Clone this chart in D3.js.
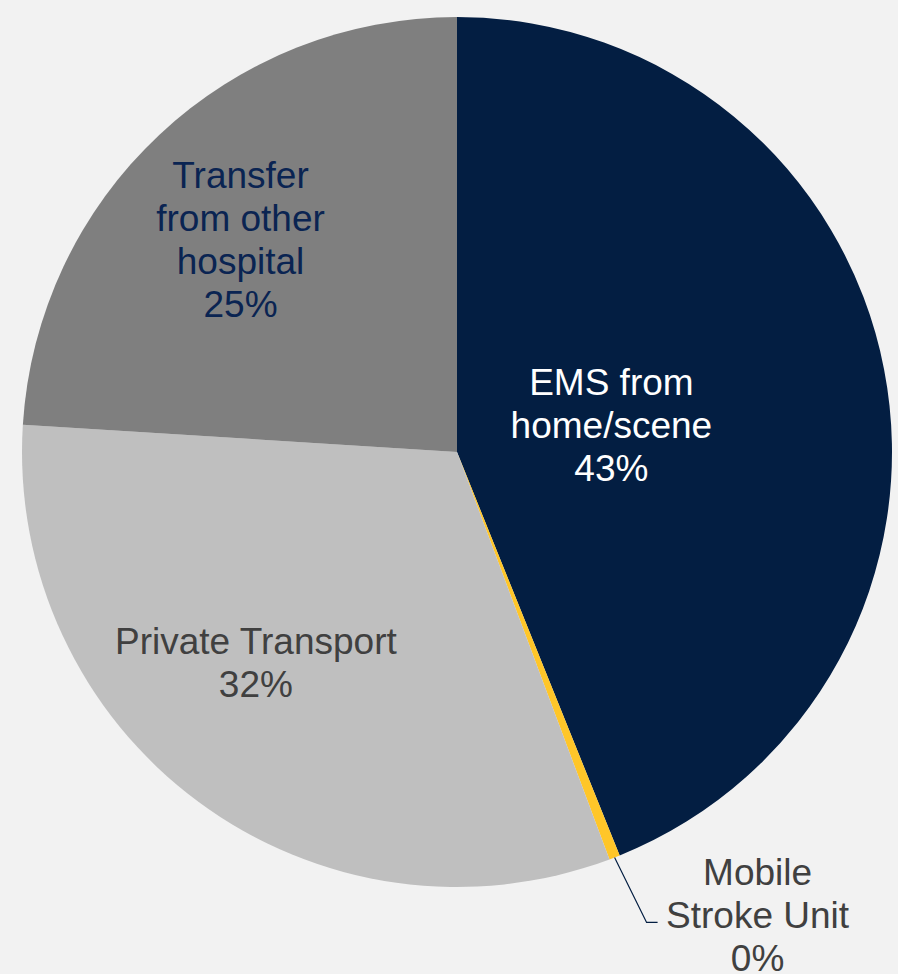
<!DOCTYPE html>
<html>
<head>
<meta charset="utf-8">
<script src="https://cdn.jsdelivr.net/npm/d3@7/dist/d3.min.js"></script>
<style>
  html, body { margin: 0; padding: 0; background: #f2f2f2; }
  svg { display: block; }
</style>
</head>
<body>
<svg id="chart" width="898" height="974"></svg>
<script>
// ---- Data ----
const categories = ["EMS from home/scene", "Mobile Stroke Unit", "Private Transport", "Transfer from other hospital"];
const labelLines = [["EMS from", "home/scene"], ["Mobile", "Stroke Unit"], ["Private Transport"], ["Transfer", "from other", "hospital"]];
const values = [43.9, 0.4, 31.7, 24.0];
const percentLabels = ["43%", "0%", "32%", "25%"];

// ---- Styles / layout ----
const colors = ["#031e42", "#ffc629", "#bfbfbf", "#7f7f7f"];
const textColors = ["#ffffff", "#404040", "#404040", "#0a2452"];
const W = 898, H = 974;
const cx = 457, cy = 452, R = 435;
const fontSize = 37, lineH = 43;
// label offsets from arc centroid (layout only)
const labelOffsets = [[-136, 29], [0, 0], [-25, -27], [-14, 3]];

const svg = d3.select("#chart");
svg.append("rect").attr("width", W).attr("height", H).attr("fill", "#f2f2f2");
const g = svg.append("g").attr("transform", `translate(${cx},${cy})`);

const pie = d3.pie().sort(null).value(d => d);
const arcs = pie(values);
const arc = d3.arc().innerRadius(0).outerRadius(R);
const labelArc = d3.arc().innerRadius(R * 0.68).outerRadius(R * 0.68);
const edgeArc = d3.arc().innerRadius(R).outerRadius(R);

g.selectAll("path.slice").data(arcs).enter().append("path")
  .attr("class", "slice")
  .attr("d", arc)
  .attr("fill", (d, i) => colors[i]);

arcs.forEach((d, i) => {
  const lines = labelLines[i].concat([percentLabels[i]]);
  let x, y;
  if (i === 1) {
    // outside label with leader line
    const p0 = edgeArc.centroid(d);
    const lx = p0[0] + 143, ly = p0[1] + 58; // label block centre
    x = lx; y = ly;
    const elbowX = p0[0] + 32, elbowY = p0[1] + 65;
    g.append("polyline")
      .attr("points", [[p0[0], p0[1]], [elbowX, elbowY], [elbowX + 11, elbowY]].map(p => p.join(",")).join(" "))
      .attr("fill", "none").attr("stroke", "#031e42").attr("stroke-width", 1.2);
  } else {
    const c = labelArc.centroid(d);
    x = c[0] + labelOffsets[i][0];
    y = c[1] + labelOffsets[i][1];
  }
  const n = lines.length;
  const firstBaseline = y - (n - 1) * lineH / 2 + fontSize * 0.35;
  const t = g.append("text")
    .attr("text-anchor", "middle")
    .attr("font-family", "'Liberation Sans', Arial, sans-serif")
    .attr("font-size", fontSize)
    .attr("fill", textColors[i]);
  lines.forEach((ln, k) => {
    t.append("tspan").attr("x", x).attr("y", firstBaseline + k * lineH).text(ln);
  });
});
</script>
</body>
</html>
